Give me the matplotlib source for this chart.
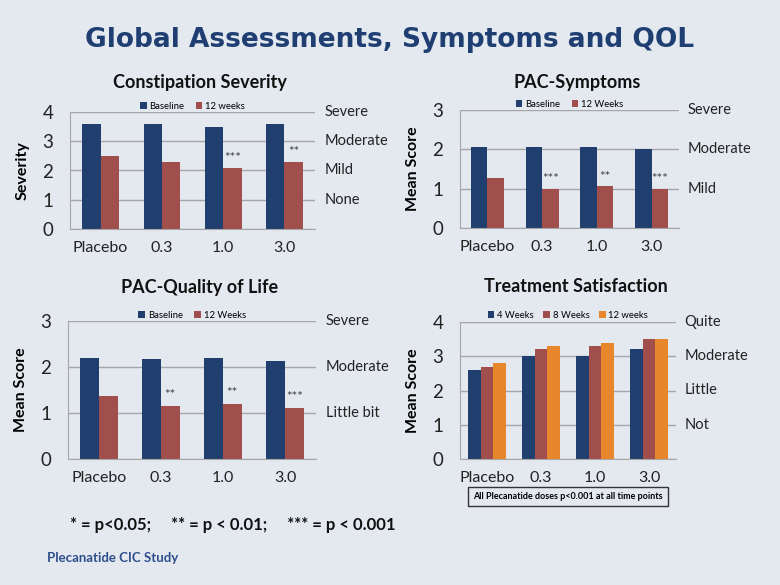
import numpy as np
import matplotlib
matplotlib.use("Agg")
import matplotlib.pyplot as plt
from matplotlib.patches import Rectangle

plt.rcParams['font.family'] = ['Lato', 'DejaVu Sans']

# data
doses = ["Placebo", "0.3", "1.0", "3.0"]

sev_base = [3.6, 3.6, 3.5, 3.6]
sev_12w = [2.5, 2.3, 2.1, 2.3]
sev_stars = ["", "", "***", "**"]
sev_levels = ["None", "Mild", "Moderate", "Severe"]

sym_base = [2.05, 2.07, 2.07, 2.02]
sym_12w = [1.27, 1.0, 1.06, 1.0]
sym_stars = ["", "***", "**", "***"]
sym_levels = ["Mild", "Moderate", "Severe"]

qol_base = [2.19, 2.18, 2.19, 2.13]
qol_12w = [1.37, 1.16, 1.2, 1.1]
qol_stars = ["", "**", "**", "***"]
qol_levels = ["Little bit", "Moderate", "Severe"]

sat_4w = [2.6, 3.0, 3.0, 3.2]
sat_8w = [2.7, 3.2, 3.3, 3.5]
sat_12w = [2.8, 3.3, 3.4, 3.5]
sat_levels = ["Not", "Little", "Moderate", "Quite"]

BG = "#E4E9F0"
NAVY = "#203F6E"
RED = "#A04F4C"
ORANGE = "#E8862B"
GRID = "#A6A6A6"

fig = plt.figure(figsize=(7.8, 5.85), dpi=100)
fig.patch.set_facecolor(BG)


def px(l, t, r, b):
    # pixel box -> figure fraction
    return [l / 780, 1 - b / 585, (r - l) / 780, (b - t) / 585]


def setup(ax, ymax, ylabel, levels, title, title_y):
    ax.set_facecolor(BG)
    ax.set_xlim(-0.5, 3.5)
    ax.set_ylim(0, ymax)
    ax.set_yticks(range(ymax + 1))
    ax.tick_params(axis='y', length=0, pad=12, labelsize=13.5, labelcolor="#222222")
    ax.tick_params(axis='x', length=0, pad=9, labelsize=11.5, labelcolor="#222222")
    ax.set_xticks(range(4))
    ax.set_xticklabels(doses)
    ax.grid(axis='y', color=GRID, lw=1)
    ax.set_axisbelow(True)
    for s in ["top", "right"]:
        ax.spines[s].set_visible(False)
    for s in ["left", "bottom"]:
        ax.spines[s].set_color(GRID)
    ax.set_ylabel(ylabel, fontsize=11.5, fontweight='bold', labelpad=9)
    for i, lab in enumerate(levels):
        ax.text(1.04, (ymax - len(levels) + 1 + i) / ymax, lab, transform=ax.transAxes,
                fontsize=10.5, va='center', ha='left', color="#222222")
    bb = ax.get_position()
    fig.text(bb.x0 + bb.width / 2 + 0.01, title_y, title, ha='center', va='center',
             fontsize=13, fontweight='bold', color="#111111")


def pair(ax, base, w12, stars, lab12, ymax):
    x = np.arange(4)
    w = 0.3
    ax.bar(x - w / 2, base, w, color=NAVY, label="Baseline")
    ax.bar(x + w / 2, w12, w, color=RED, label=lab12)
    for xi, v, s in zip(x, w12, stars):
        if s:
            ax.text(xi + w / 2, v + 0.08 * ymax, s, ha='center', va='center',
                    fontsize=9.5, color="#444444")
    ax.legend(loc='lower center', bbox_to_anchor=(0.5, 0.98), ncol=2, frameon=False,
              fontsize=6.8, handlelength=0.7, handleheight=0.7, handletextpad=0.3,
              columnspacing=1.2, borderaxespad=0)


# Constipation Severity
ax1 = fig.add_axes(px(70, 112, 315, 229))
pair(ax1, sev_base, sev_12w, sev_stars, "12 weeks", 4)
setup(ax1, 4, "Severity", sev_levels, "Constipation Severity", 1 - 83 / 585)

# PAC-Symptoms
ax2 = fig.add_axes(px(460, 110, 679, 228))
pair(ax2, sym_base, sym_12w, sym_stars, "12 Weeks", 3)
setup(ax2, 3, "Mean Score", sym_levels, "PAC-Symptoms", 1 - 83 / 585)

# PAC-Quality of Life
ax3 = fig.add_axes(px(68, 321, 316, 459))
pair(ax3, qol_base, qol_12w, qol_stars, "12 Weeks", 3)
setup(ax3, 3, "Mean Score", qol_levels, "PAC-Quality of Life", 1 - 287 / 585)

# Treatment Satisfaction
ax4 = fig.add_axes(px(460, 322, 676, 459))
x = np.arange(4)
w = 0.23
ax4.bar(x - w, sat_4w, w, color=NAVY, label="4 Weeks")
ax4.bar(x, sat_8w, w, color=RED, label="8 Weeks")
ax4.bar(x + w, sat_12w, w, color=ORANGE, label="12 weeks")
ax4.legend(loc='lower center', bbox_to_anchor=(0.5, 0.99), ncol=3, frameon=False,
           fontsize=6.8, handlelength=0.7, handleheight=0.7, handletextpad=0.3,
           columnspacing=1.0, borderaxespad=0)
setup(ax4, 4, "Mean Score", sat_levels, "Treatment Satisfaction", 1 - 287 / 585)

# box under the satisfaction chart
fig.patches.append(Rectangle((468 / 780, 1 - 506 / 585), 200 / 780, 19 / 585,
                             transform=fig.transFigure, facecolor=BG,
                             edgecolor="#333333", lw=1, zorder=5))
fig.text(568 / 780, 1 - 496.5 / 585, "All Plecanatide doses p<0.001 at all time points",
         ha='center', va='center', fontsize=6.5, fontweight='bold', zorder=6)

fig.text(0.5, 1 - 40 / 585, "Global Assessments, Symptoms and QOL", ha='center',
         va='center', fontsize=19, fontweight='bold', color="#1F3F73",
         family='DejaVu Sans')

fig.text(70 / 780, 1 - 525 / 585, "* = p<0.05;     ** = p < 0.01;     *** = p < 0.001",
         ha='left', va='center', fontsize=12, fontweight='bold', color="#111111")
fig.text(47 / 780, 1 - 558 / 585, "Plecanatide CIC Study", ha='left', va='center',
         fontsize=9.5, fontweight='bold', color="#2E4E8C")

fig.savefig("out.png", dpi=100, facecolor=BG)
